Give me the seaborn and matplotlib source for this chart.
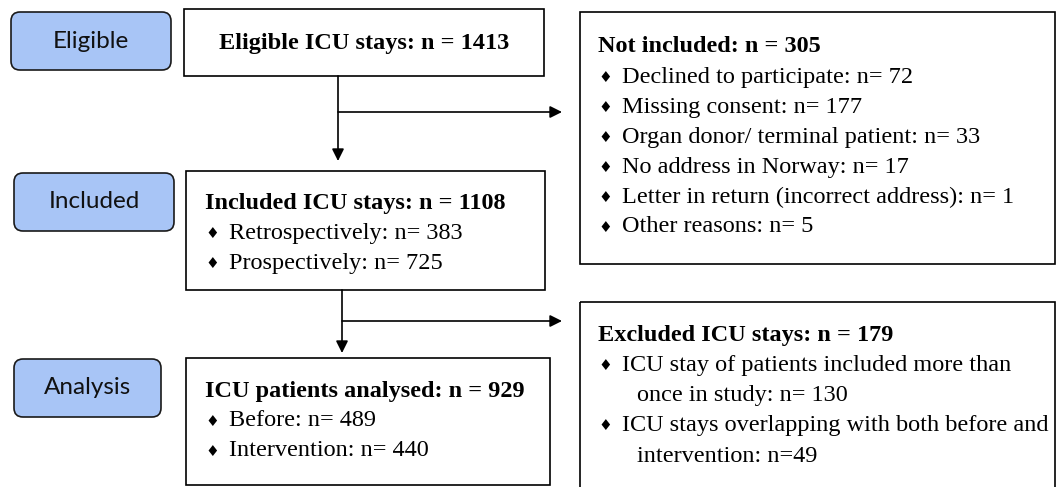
import matplotlib
matplotlib.use("Agg")
import matplotlib.pyplot as plt
import seaborn as sns
from matplotlib.patches import FancyBboxPatch, Rectangle

# Flow chart content
stage_labels = ["Eligible", "Included", "Analysis"]

eligible_title = "Eligible ICU stays: n = 1413"

not_included_title = "Not included: n = 305"
not_included_items = [
    "Declined to participate: n= 72",
    "Missing consent: n= 177",
    "Organ donor/ terminal patient: n= 33",
    "No address in Norway: n= 17",
    "Letter in return (incorrect address): n= 1",
    "Other reasons: n= 5",
]

included_title = "Included ICU stays: n = 1108"
included_items = ["Retrospectively: n= 383", "Prospectively: n= 725"]

excluded_title = "Excluded ICU stays: n = 179"
excluded_items = [
    ["ICU stay of patients included more than", "once in study: n= 130"],
    ["ICU stays overlapping with both before and", "intervention: n=49"],
]

analysed_title = "ICU patients analysed: n = 929"
analysed_items = ["Before: n= 489", "Intervention: n= 440"]

sns.set_theme(style="white")
plt.rcParams["text.color"] = "black"
W, H = 1057, 487
fig = plt.figure(figsize=(W / 100, H / 100), dpi=100)
ax = fig.add_axes([0, 0, 1, 1])
ax.set_xlim(0, W)
ax.set_ylim(H, 0)
ax.axis("off")

serif = "Liberation Serif"
fs = 17.5
line_h = 30
lw = 1.2


def plain_box(x0, y0, x1, y1):
    ax.add_patch(Rectangle((x0, y0), x1 - x0, y1 - y0, fill=False,
                           edgecolor="black", linewidth=lw, clip_on=False))


def stage_box(x0, y0, x1, y1, label):
    ax.add_patch(FancyBboxPatch((x0, y0), x1 - x0, y1 - y0,
                                boxstyle="round,pad=0,rounding_size=9",
                                facecolor="#a8c5f6", edgecolor="#1a1a1a",
                                linewidth=lw))
    ax.text((x0 + x1) / 2, (y0 + y1) / 2, label, family="Lato", fontsize=17.5,
            ha="center", va="center", color="#111111")


def bullet_list(x, y, title, items):
    ax.text(x, y + 1, title, family=serif, fontsize=fs, fontweight="bold",
            ha="left", va="center")
    y += line_h
    for item in items:
        lines = item if isinstance(item, list) else [item]
        ax.text(x + 7, y + 1, "\u2666", family="DejaVu Sans", fontsize=11,
                ha="center", va="center")
        for k, ln in enumerate(lines):
            ax.text(x + 24 + (15 if k else 0), y + 1, ln, family=serif,
                    fontsize=fs, ha="left", va="center")
            y += line_h


def arrow(x0, y0, x1, y1):
    ax.annotate("", xy=(x1, y1), xytext=(x0, y0),
                arrowprops=dict(arrowstyle="-|>", color="black", lw=lw,
                                mutation_scale=18, shrinkA=0, shrinkB=0))


# left stage labels
stage_box(11, 12, 171, 70, stage_labels[0])
stage_box(14, 173, 174, 231, stage_labels[1])
stage_box(14, 359, 161, 417, stage_labels[2])

# eligible
plain_box(184, 9, 544, 76)
ax.text(364, 43, eligible_title, family=serif, fontsize=fs,
        fontweight="bold", ha="center", va="center")

# not included
plain_box(580, 12, 1055, 264)
bullet_list(598, 46, not_included_title, not_included_items)

# included
plain_box(186, 171, 545, 290)
bullet_list(205, 203, included_title, included_items)

# excluded
plain_box(580, 302, 1055, 490)
bullet_list(598, 335, excluded_title, excluded_items)

# analysed
plain_box(186, 358, 550, 485)
bullet_list(205, 390, analysed_title, analysed_items)

# connectors
arrow(338, 76, 338, 161)
arrow(338, 112, 562, 112)
arrow(342, 290, 342, 353)
arrow(342, 321, 562, 321)

fig.savefig("out.png", dpi=100, facecolor="white")
